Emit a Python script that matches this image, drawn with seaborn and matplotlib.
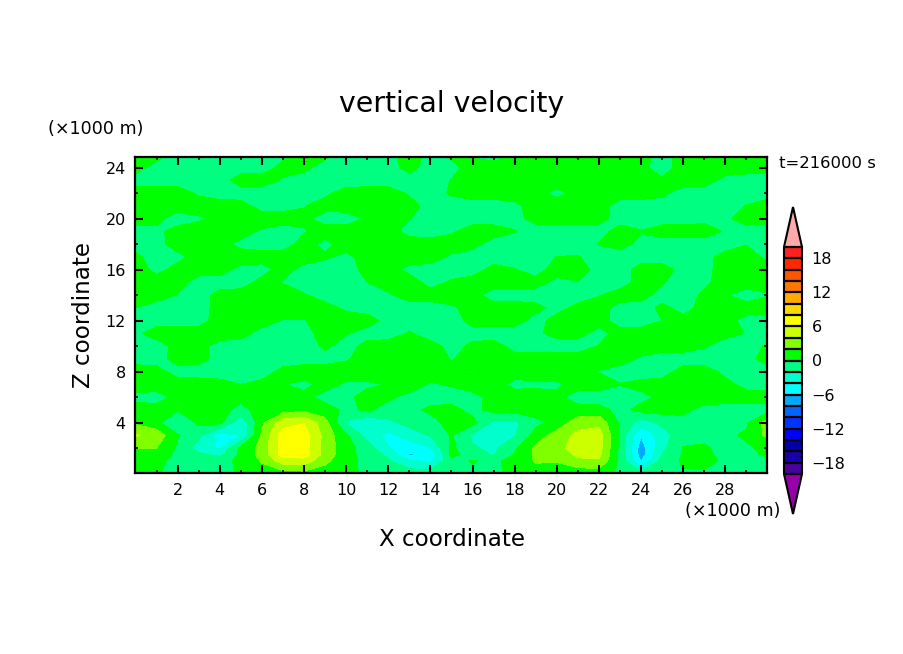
import numpy as np
import matplotlib
matplotlib.use("Agg")
import matplotlib.pyplot as plt
from matplotlib.colors import ListedColormap
from matplotlib.ticker import MultipleLocator
import seaborn as sns

# vertical velocity, one list per height, x = 0..30 km
w_z00 = [.3,.1,-.4,-.5,-.5, .2,1.1,1,1.2,1, .4,-.3,-.8,-1,-1, -.3,-.3,-.3,.4,1.1, -.3,.6,.8,-.3,-1.5, -.6,-.2,-.2,-.3,-.3, -.3]
w_z01 = [.7,.4,-.5,-.8,-.6, .4,2.2,5,5.2,2.5, .6,-.5,-1.8,-3.6,-4.5, -.5,.1,-.3,.5,2.2, 2.3,3.6,3.8,-.5,-6.1, -1.2,.3,.5,-.3,-.3, -.3]
w_z15 = [1.2,1,-.4,-1.5,-2.6, .5,2.7,7,7,3.2, .7,-.8,-2.4,-6.3,-5.8, .5,-.8,-2.2,.1,2.4, 2.8,4.4,4.5,-.5,-7, -2,.2,.3,-.4,-.3, .2]
w_z02 = [2,2,-.3,-3,-4.2, .6,2.6,7,7,3.2, .8,-1,-3.9,-5,-4.1, .5,-1.8,-2.4,-.3,2.5, 3.3,5,4.8,-.5,-7, -2.5,.1,.2,-.5,-.3, .5]
w_z03 = [4.2,3.3,.2,-1.5,-5, -4,2.4,7,7,3.3, .3,-2.8,-4.5,-3.2,-1.8, .2,-2.3,-3.5,-2.2,.8, 3,4.5,5,-.5,-5.9, -3,-.6,-.4,-.4,.3, 2.5]
w_z04 = [1.6,.6,-2.2,.5,.5, -3.5,1.6,5.2,5.9,2.8, -2.3,-3.6,-2.5,-1.2,-.8, .9,.6,-2.5,-2.4,-.5, .6,3.2,3.4,-.3,-3, -1.5,-.5,-.5,-.3,-.3, 3]
w_z05 = [.7,.8,.2,.6,.6, -.5,.7,1,1.5,.8, -.4,.3,-.7,-.5,.4, .6,-.6,.7,.8,.8, .7,.7,.7,-.6,.6, .8,.4,-.6,-1,-1, -1]
w_z06 = [-.5,-.8,.6,.9,.9, .5,.7,.6,.5,-.6, -.4,.6,.3,-.5,-.8, -.8,-.7,.7,1,.8, .4,-.8,-1,-1,-.5, .4,1,1,1,1, 1]
w_z07 = [1,1,1,1,.7, 0,.6,.1,-.5,.7, -.3,-.3,.1,1,-.2, .2,1,1,-.6,-.4, -.3,.8,1,.1,.6, 1,1,1,.7,-.8, -1]
w_z08 = [.7,.7,-.8,-1,-1, -1,-1,.6,1,1, 1,1,1,1,1, .3,-.1,.8,1,1, 1,1,-.1,-1,-1, -1,.9,1,-.6,-1, -1]
w_z09 = [-.6,-.8,.8,.8,-1, -1,-1,-1,-.8,-.8, -.2,.8,1,1,1, -.1,.6,.1,.8,1, 1,1,1,1,-.3, -1,-1,-1,-.3,-.8, 1]
w_z10 = [-1,-1,.7,.7,-.8, -1,-1,-1,-1,.4, -1,.8,1,1,.8, -.7,.4,.8,-.7,-1, -1,-1,.1,1,1, 1,1,.2,-1,-1, .3]
w_z11 = [-.5,1,1,1,1, .8,-.8,-1,-.7,.8, .2,-1,-1,.2,-1, -1,-.7,-1,-1,-.4, .7,.7,-.7,.8,1, .5,1,1,.7,-.1, -1]
w_z12 = [-1,-1,-1,-.8,.9, 1,1,-.1,-.1,.9, 1,1,-.8,-1,-1, -1,.7,1,.8,-.8, .8,1,.8,-.9,-1, 0,.6,1,1,-.8, -1]
w_z13 = [0,-1,-1,-.7,.6, 1,1,1,1,.8, -.4,-1,-1,-1,-1, -.3,.7,1,1,.6, -.7,.6,.8,-.7,-1, .5,-.7,.7,1,1, 1]
w_z14 = [1,1,-.1,-1,.7, 1,1,1,.2,-1, -1,-1,-.3,1,1, 1,.8,-1,-1,-1, -1,-1,-.1,1,.8, -.8,-1,.4,.2,-1, -.2]
w_z15b = [1,1,.9,-1,-1, -1,.7,-.1,-1,-1, -1,0,1,1,-.8, .3,1,1,1,.8, -.6,-.1,-1,-1,.8, .2,-1,-.5,1,1, 1]
w_z16 = [1,-.6,.7,1,.8, -.6,-.8,.8,-.7,-1, -1,.7,.7,-.5,-1, -1,-1,.7,.1,-.9, 1,1,-.8,-1,.9, .8,-.6,-.7,1,1, 1]
w_z17 = [.5,-1,-.6,.9,1, 1,1,1,1,.3, -.5,.8,1,1,1, -.3,-1,-1,-1,-1, .05,.1,-.8,-1,-1, -1,-1,-.7,.8,1, -.5]
w_z18 = [-1,-.8,1,1,.8, -.6,-1,-1,.9,-.6, 1,1,1,1,1, 1,.7,-1,-1,-1, -1,-1,.1,.7,-.5, -1,-1,-1,-1,-.1, -1]
w_z19 = [-1,-.5,.8,1,.8, .8,-.3,-1,-.2,1, 1,1,.7,-.7,-1, -.3,1,1,.1,-1, -1,-1,-1,1,.1, 1,1,1,-.2,-1, -1]
w_z20 = [1,.6,-1,-.3,.6, 1,1,1,.5,-1, -1,.3,1,.1,-1, -1,-1,-1,-.7,.8, 1,1,.9,-1,-1, -1,-1,-.6,-.4,1, 1]
w_z21 = [1,1,1,1,1, .8,-.8,-.8,-.1,.8, 1,1,1,.8,-.8, -1,-1,-1,-.5,1, 1,1,.9,-1,-1, -1,-1,-1,-1,.1, 1]
w_z22 = [1,1,1,-.3,-1, -1,-1,-1,-1,-.4, .8,1,1,-.3,-1, .3,1,1,1,.6, -.5,.5,1,1,1, .5,-1,-1,-1,-1, -1]
w_z23 = [-1,-1,-1,-1,-1, 1,1,-.2,-1,-1, -1,-1,-1,-1,-1, .1,1,1,1,1, 1,1,1,1,.3, .3,1,1,-.6,-1, -1]
w_z24 = [1,-1,-1,-1,-1, -1,-1,.6,.6,-1, -1,-1,-1,.8,-1, -.8,1,1,1,1, 1,1,1,1,.6, -1,1,1,1,1, 1]
w_z25 = [1,1,-1,-1,-1, -1,-1,-.5,1,.6, -1,-1,-.6,1,-.6, .6,-.3,-1,.2,1, 1,1,1,1,1, -1,1,1,1,1, 1]

x_km = list(range(31))
z_km = [0, 1, 1.5, 2, 3, 4, 5, 6, 7, 8, 9, 10, 11, 12, 13, 14, 15, 16, 17, 18, 19, 20, 21, 22, 23, 24, 25]
rows = [w_z00, w_z01, w_z15, w_z02, w_z03, w_z04, w_z05, w_z06, w_z07, w_z08, w_z09,
        w_z10, w_z11, w_z12, w_z13, w_z14, w_z15b, w_z16, w_z17, w_z18, w_z19, w_z20,
        w_z21, w_z22, w_z23, w_z24, w_z25]

levels = list(range(-20, 21, 2))
band_colors = ["#4b00a0", "#1a00a8", "#0000aa", "#0000ff", "#0033ff", "#0066ff", "#00aaff",
               "#00ffff", "#00ffcc", "#00ff80", "#00ff00", "#80ff00", "#ccff00", "#ffff00",
               "#ffd700", "#ffaa00", "#ff7700", "#ff5500", "#ff2800", "#ff2020"]
under_color = "#9600aa"
over_color = "#ffaaaa"
cbar_ticks = [-18, -12, -6, 0, 6, 12, 18]

W, H = 904, 654
sns.set_theme(style="ticks", rc={"font.family": ["DejaVu Sans"], "axes.linewidth": 2.0})
fig = plt.figure(figsize=(W / 100, H / 100), dpi=100, facecolor="white")


def box(x0, y0, x1, y1):
    return [x0 / W, 1 - y1 / H, (x1 - x0) / W, (y1 - y0) / H]


def label(x, y, s, size, **kw):
    fig.text(x / W, 1 - y / H, s, fontsize=size, color="black",
             ha=kw.pop("ha", "center"), va="center", **kw)


ax = fig.add_axes(box(135.5, 157, 767.5, 473))
cmap = ListedColormap(sns.color_palette(band_colors)).with_extremes(under=under_color, over=over_color)
cf = ax.contourf(x_km, z_km, np.array(rows), levels=levels, cmap=cmap, extend="both", antialiased=False)
ax.set_xlim(0, 30)
ax.set_ylim(0.05, 24.83)
ax.xaxis.set_minor_locator(MultipleLocator(1))
ax.yaxis.set_minor_locator(MultipleLocator(2))
ax.set_xticks(range(2, 30, 2))
ax.set_yticks(range(4, 25, 4))
ax.tick_params(which="major", direction="in", length=6, width=1.5, top=True, right=True,
               labelsize=11.5, pad=7, color="black", labelcolor="black")
ax.tick_params(which="minor", direction="in", length=2.5, width=1.2, top=True, right=True, color="black")
ax.set_axisbelow(False)
for s in ax.spines.values():
    s.set_color("black")
    s.set_linewidth(1.6)

cax = fig.add_axes(box(784, 207, 802, 514))
cb = fig.colorbar(cf, cax=cax, ticks=cbar_ticks, drawedges=True, extendfrac=40 / 227)
cb.outline.set_edgecolor("black")
cb.outline.set_linewidth(1.5)
cb.dividers.set_color("black")
cb.dividers.set_linewidth(1.6)
cax.tick_params(length=0, labelsize=11.5, pad=7, labelcolor="black")
cb.set_ticklabels(["\u221218", "\u221212", "\u22126", "0", "6", "12", "18"])

label(452, 104, "vertical velocity", 20.4)
label(96, 129, "(\u00d71000 m)", 12.6)
label(733, 511, "(\u00d71000 m)", 12.6)
label(452, 539, "X coordinate", 16.6)
label(83, 315, "Z coordinate", 16.6, rotation=90)
label(827, 163, "t=216000 s", 11.8)

fig.savefig("out.png", dpi=100, facecolor="white")
